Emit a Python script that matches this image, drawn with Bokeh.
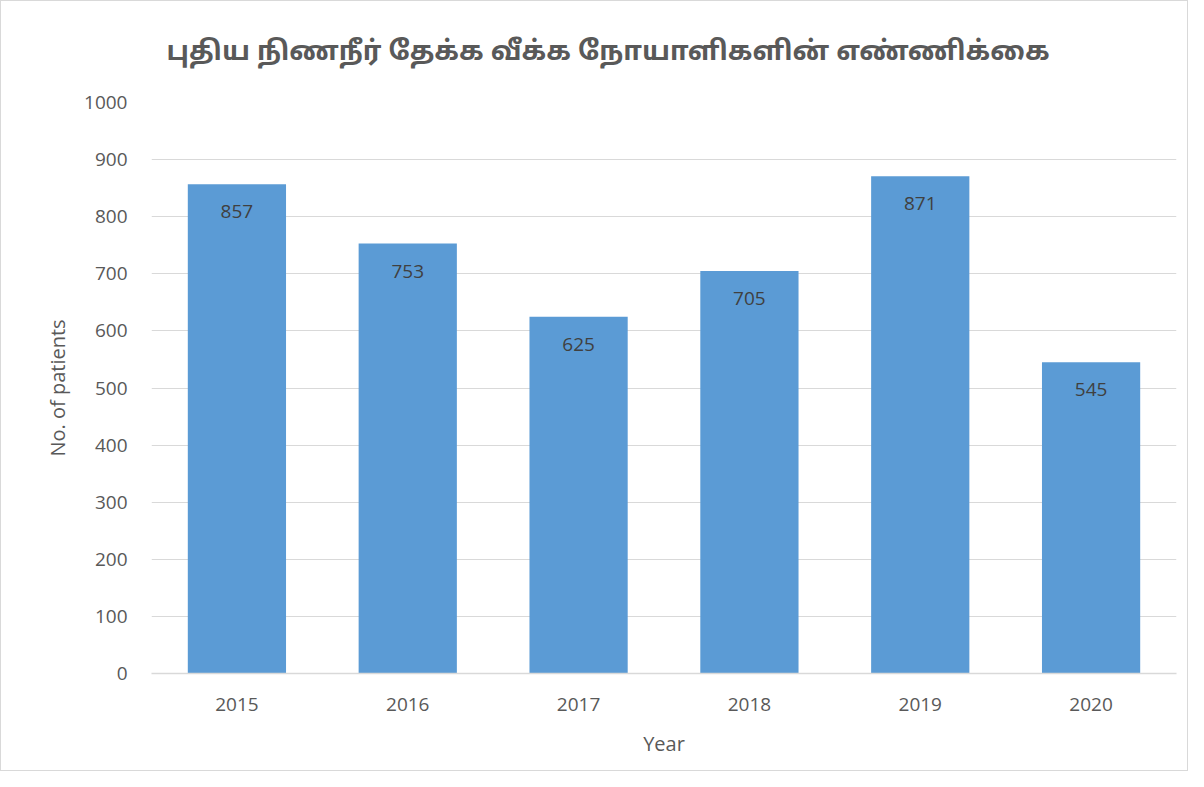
from bokeh.plotting import figure
from bokeh.models import ColumnDataSource, Range1d, FactorRange, SingleIntervalTicker, LabelSet
from bokeh.core.properties import value
from bokeh.embed import file_html
from bokeh.resources import INLINE

years = ["2015", "2016", "2017", "2018", "2019", "2020"]
patients = [857, 753, 625, 705, 871, 545]
labels = [str(v) for v in patients]
title_text = "புதிய நிணநீர் தேக்க வீக்க நோயாளிகளின் எண்ணிக்கை"

src = ColumnDataSource(dict(year=years, n=patients, lab=labels))

FONT = "Open Sans"
GREY = "#595959"

p = figure(width=1188, height=771, output_backend="svg", toolbar_location=None,
           x_range=FactorRange(factors=years, range_padding=0),
           y_range=Range1d(0, 1000),
           min_border_left=150, min_border_right=13, min_border_top=98, min_border_bottom=99,
           border_fill_color="white")
p.x_range.range_padding = 0
p.styles = {"border": "1px solid #d9d9d9"}

p.vbar(x="year", top="n", width=0.575, source=src, color="#5B9BD5", line_color=None)

lbl = LabelSet(x="year", y="n", text="lab", source=src, y_offset=-21,
               text_align="center", text_baseline="top",
               text_font=value(FONT), text_font_size="19px", text_color="#404040")
p.add_layout(lbl)

p.title.text = title_text
p.title.align = "left"
p.title.offset = 15
p.title.text_font = "'Noto Sans Tamil', 'Lohit Tamil', 'Noto Sans', sans-serif"
p.title.text_font_size = "27px"
p.title.text_font_style = "bold"
p.title.text_color = GREY
p.title.standoff = 66

p.yaxis.ticker = SingleIntervalTicker(interval=100)
p.yaxis.axis_line_color = None
p.yaxis.major_tick_line_color = None
p.yaxis.minor_tick_line_color = None
p.yaxis.major_label_standoff = 18
p.yaxis.major_label_text_font = FONT
p.yaxis.major_label_text_font_size = "19px"
p.yaxis.major_label_text_color = GREY
p.yaxis.axis_label = "No. of patients"
p.yaxis.axis_label_text_font = FONT
p.yaxis.axis_label_text_font_size = "20px"
p.yaxis.axis_label_text_font_style = "normal"
p.yaxis.axis_label_text_color = GREY
p.yaxis.axis_label_standoff = 10

p.xaxis.axis_line_color = "#d9d9d9"
p.xaxis.axis_line_width = 1.5
p.xaxis.major_tick_line_color = None
p.xaxis.minor_tick_line_color = None
p.xaxis.major_label_standoff = 18
p.xaxis.major_label_text_font = FONT
p.xaxis.major_label_text_font_size = "19px"
p.xaxis.major_label_text_color = GREY
p.xaxis.axis_label = "Year"
p.xaxis.axis_label_text_font = FONT
p.xaxis.axis_label_text_font_size = "20px"
p.xaxis.axis_label_text_font_style = "normal"
p.xaxis.axis_label_text_color = GREY
p.xaxis.axis_label_standoff = 16

p.xgrid.grid_line_color = None
p.ygrid.grid_line_color = "#d9d9d9"
p.ygrid.grid_line_width = 1.2
p.outline_line_color = None

open("out.html", "w").write(file_html(p, INLINE))
